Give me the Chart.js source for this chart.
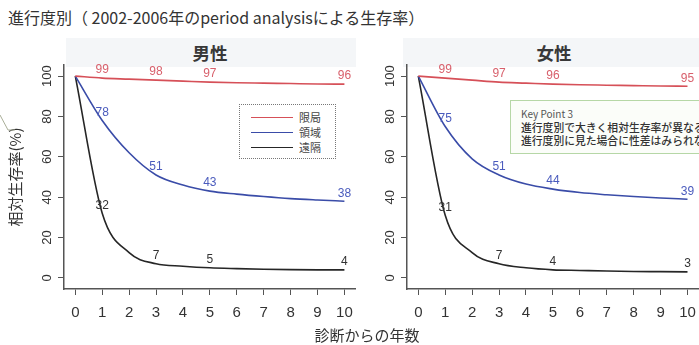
<!DOCTYPE html>
<html><head><meta charset="utf-8">
<script src="https://cdn.jsdelivr.net/npm/chart.js@4.4.1/dist/chart.umd.min.js"></script>
<style>
html,body{margin:0;padding:0;background:#fff;}
body{width:699px;height:345px;overflow:hidden;position:relative;font-family:"Noto Sans CJK JP","Noto Sans",sans-serif;color:#333;}
.abs{position:absolute;}
#mainTitle{left:8px;top:6px;font-size:16px;line-height:22px;white-space:nowrap;color:#333;}
.band{background:#f4f6f8;top:38px;height:29px;}
.ptitle{top:41px;width:80px;text-align:center;font-size:17.5px;font-weight:bold;line-height:24px;color:#383838;}
#legend{left:239px;top:104px;width:95px;height:53px;border:1px dotted #777;background:#fff;}
.lrow{position:absolute;left:0;width:95px;height:15px;}
.lline{position:absolute;left:11px;top:7px;width:42px;height:0;border-top:1.4px solid;}
.ltext{position:absolute;left:59px;top:0;font-size:11px;line-height:15px;color:#444;}
#keybox{left:510px;top:100px;width:230px;height:52px;border:1px solid #b6d7a6;background:#fbfdf9;}
#keybox div{position:absolute;left:10px;white-space:nowrap;color:#333;}
#xtitle{left:300px;top:324px;width:134px;text-align:center;font-size:15px;line-height:22px;}
.wrap{position:absolute;top:0;}
</style></head><body>
<div id="mainTitle" class="abs">進行度別（ 2002-2006年のperiod analysisによる生存率）</div>
<div class="abs band" style="left:66px;width:290px;"></div>
<div class="abs band" style="left:403px;width:296px;"></div>
<div class="abs ptitle" style="left:170px;">男性</div>
<div class="abs ptitle" style="left:514px;">女性</div>
<div class="wrap" style="left:0;width:362px;height:345px;"><canvas id="cMale" width="362" height="345"></canvas></div>
<div class="wrap" style="left:345px;width:360px;height:345px;"><canvas id="cFemale" width="360" height="345"></canvas></div>
<div id="legend" class="abs"></div>
<div id="keybox" class="abs">
  <div style="top:6px;font-size:10px;line-height:13px;color:#555;">Key Point 3</div>
  <div style="top:20px;font-size:10.8px;line-height:13px;font-weight:500;">進行度別で大きく相対生存率が異なる</div>
  <div style="top:33px;font-size:10.8px;line-height:13px;font-weight:500;">進行度別に見た場合に性差はみられない</div>
</div>
<div id="xtitle" class="abs">診断からの年数</div>
<svg class="abs" style="left:0;top:108px;" width="20" height="30"><polyline points="0,7 8,22 15,22" fill="none" stroke="#a9ae98" stroke-width="1"/></svg>
<script>
// ---- data ----
const years = [0, 1, 2, 3, 4, 5, 6, 7, 8, 9, 10];
const xTicks = [0, 1, 2, 3, 4, 5, 6, 7, 8, 9, 10];
const yTicks = [0, 20, 40, 60, 80, 100];
const seriesNames = ['限局', '領域', '遠隔'];
const panelNames = ['男性', '女性'];
const maleLocal    = [100, 99, 98.5, 98, 97.5, 97, 96.7, 96.5, 96.3, 96.1, 96];
const maleRegional = [100, 78, 62, 51, 46, 43, 41.5, 40.3, 39.3, 38.6, 38];
const maleDistant  = [100, 32, 12.5, 7, 5.8, 5, 4.6, 4.3, 4.1, 4, 4];
const femaleLocal    = [100, 99, 98, 97, 96.5, 96, 95.7, 95.5, 95.3, 95.1, 95];
const femaleRegional = [100, 75, 59, 51, 46.5, 44, 42.3, 41.2, 40.3, 39.6, 39];
const femaleDistant  = [100, 31, 12.5, 7, 5, 4, 3.7, 3.4, 3.2, 3.1, 3];
const labelYears = [1, 3, 5, 10];

// ---- styles ----
const lineColors  = ['#d65058', '#3a4ca8', '#262626'];
const labelColors = ['#d8606c', '#4a5bbd', '#333333'];

function hasFont(name) {
  const c = document.createElement('canvas').getContext('2d');
  c.font = '40px monospace';
  const a = c.measureText('100 abc').width;
  c.font = '40px "' + name + '", monospace';
  return c.measureText('100 abc').width !== a;
}
const narrow = hasFont('Liberation Sans Narrow');
const NUM = narrow ? '"Liberation Sans Narrow", "Liberation Sans", sans-serif' : '"Liberation Sans", sans-serif';
const xTickSize = narrow ? 16 : 15;
const yTickSize = narrow ? 16 : 13;
const lblSize = narrow ? 13 : 12;

// legend
const leg = document.getElementById('legend');
seriesNames.forEach((n, i) => {
  const r = document.createElement('div');
  r.className = 'lrow';
  r.style.top = (5 + i * 15) + 'px';
  r.innerHTML = '<div class="lline" style="border-color:' + lineColors[i] + '"></div><div class="ltext">' + n + '</div>';
  leg.appendChild(r);
});

const valueLabels = {
  id: 'valueLabels',
  afterDatasetsDraw(chart) {
    const ctx = chart.ctx;
    const xs = chart.scales.x, ys = chart.scales.y;
    ctx.save();
    ctx.font = lblSize + 'px ' + NUM;
    ctx.textAlign = 'center';
    ctx.textBaseline = 'middle';
    chart.data.datasets.forEach((ds, di) => {
      ctx.fillStyle = labelColors[di];
      labelYears.forEach(yr => {
        const pt = ds.data.find(p => p.x === yr);
        if (!pt) return;
        ctx.fillText(String(Math.round(pt.y)), xs.getPixelForValue(pt.x), ys.getPixelForValue(pt.y) - 8);
      });
    });
    ctx.restore();
  }
};

// R-style y tick labels, parallel to the axis, placed from the y scale's own ticks
const yTickLabels = {
  id: 'yTickLabels',
  afterDraw(chart) {
    const ctx = chart.ctx;
    const ys = chart.scales.y;
    const x0 = chart.chartArea.left - 17;
    ctx.save();
    ctx.setTransform(1, 0, 0, 1, 0, 0);
    ctx.font = yTickSize + 'px ' + NUM;
    ctx.fillStyle = '#333';
    ctx.textAlign = 'center';
    ctx.textBaseline = 'middle';
    ys.ticks.forEach(t => {
      const py = ys.getPixelForValue(t.value);
      ctx.setTransform(0, -1, 1, 0, x0, py);
      ctx.fillText(String(t.value), 0, 0);
    });
    ctx.restore();
  }
};

function makeChart(id, series, yWidth, pad, showYTitle) {
  return new Chart(document.getElementById(id), {
    type: 'line',
    data: {
      labels: years,
      datasets: series.map((s, i) => ({
        label: seriesNames[i],
        data: s.map((v, k) => ({x: years[k], y: v})),
        borderColor: lineColors[i],
        borderWidth: 1.6,
        pointRadius: 0,
        fill: false,
        cubicInterpolationMode: 'monotone'
      }))
    },
    options: {
      responsive: false,
      animation: false,
      devicePixelRatio: 1,
      layout: {padding: pad},
      plugins: {legend: {display: false}, tooltip: {enabled: false}, title: {display: false}},
      scales: {
        x: {
          type: 'linear', min: -0.42, max: 10.42,
          afterBuildTicks: s => { s.ticks = xTicks.map(v => ({value: v})); },
          afterFit: s => { s.height = 30; },
          grid: {drawOnChartArea: false, drawTicks: true, tickLength: 6, color: '#555', lineWidth: 1},
          border: {display: true, color: '#555', width: 1.5},
          ticks: {font: {family: NUM, size: xTickSize}, color: '#333', padding: 9, maxRotation: 0, autoSkip: false}
        },
        y: {
          type: 'linear', min: -5.5, max: 105.5,
          afterBuildTicks: s => { s.ticks = yTicks.map(v => ({value: v})); },
          afterFit: s => { s.width = yWidth; },
          grid: {drawOnChartArea: false, drawTicks: true, tickLength: 6, color: '#555', lineWidth: 1},
          border: {display: true, color: '#555', width: 1.5},
          ticks: {display: false},
          title: {display: showYTitle, text: '相対生存率(%)', font: {family: '"Noto Sans CJK JP", sans-serif', size: 15}, color: '#333', padding: {top: 6, bottom: 0}}
        }
      }
    },
    plugins: [valueLabels, yTickLabels]
  });
}

makeChart('cMale', [maleLocal, maleRegional, maleDistant], 64, {left: 0, top: 65, right: 6, bottom: 26}, true);
makeChart('cFemale', [femaleLocal, femaleRegional, femaleDistant], 62, {left: 0, top: 65, right: 4, bottom: 26}, false);
</script>
</body></html>
